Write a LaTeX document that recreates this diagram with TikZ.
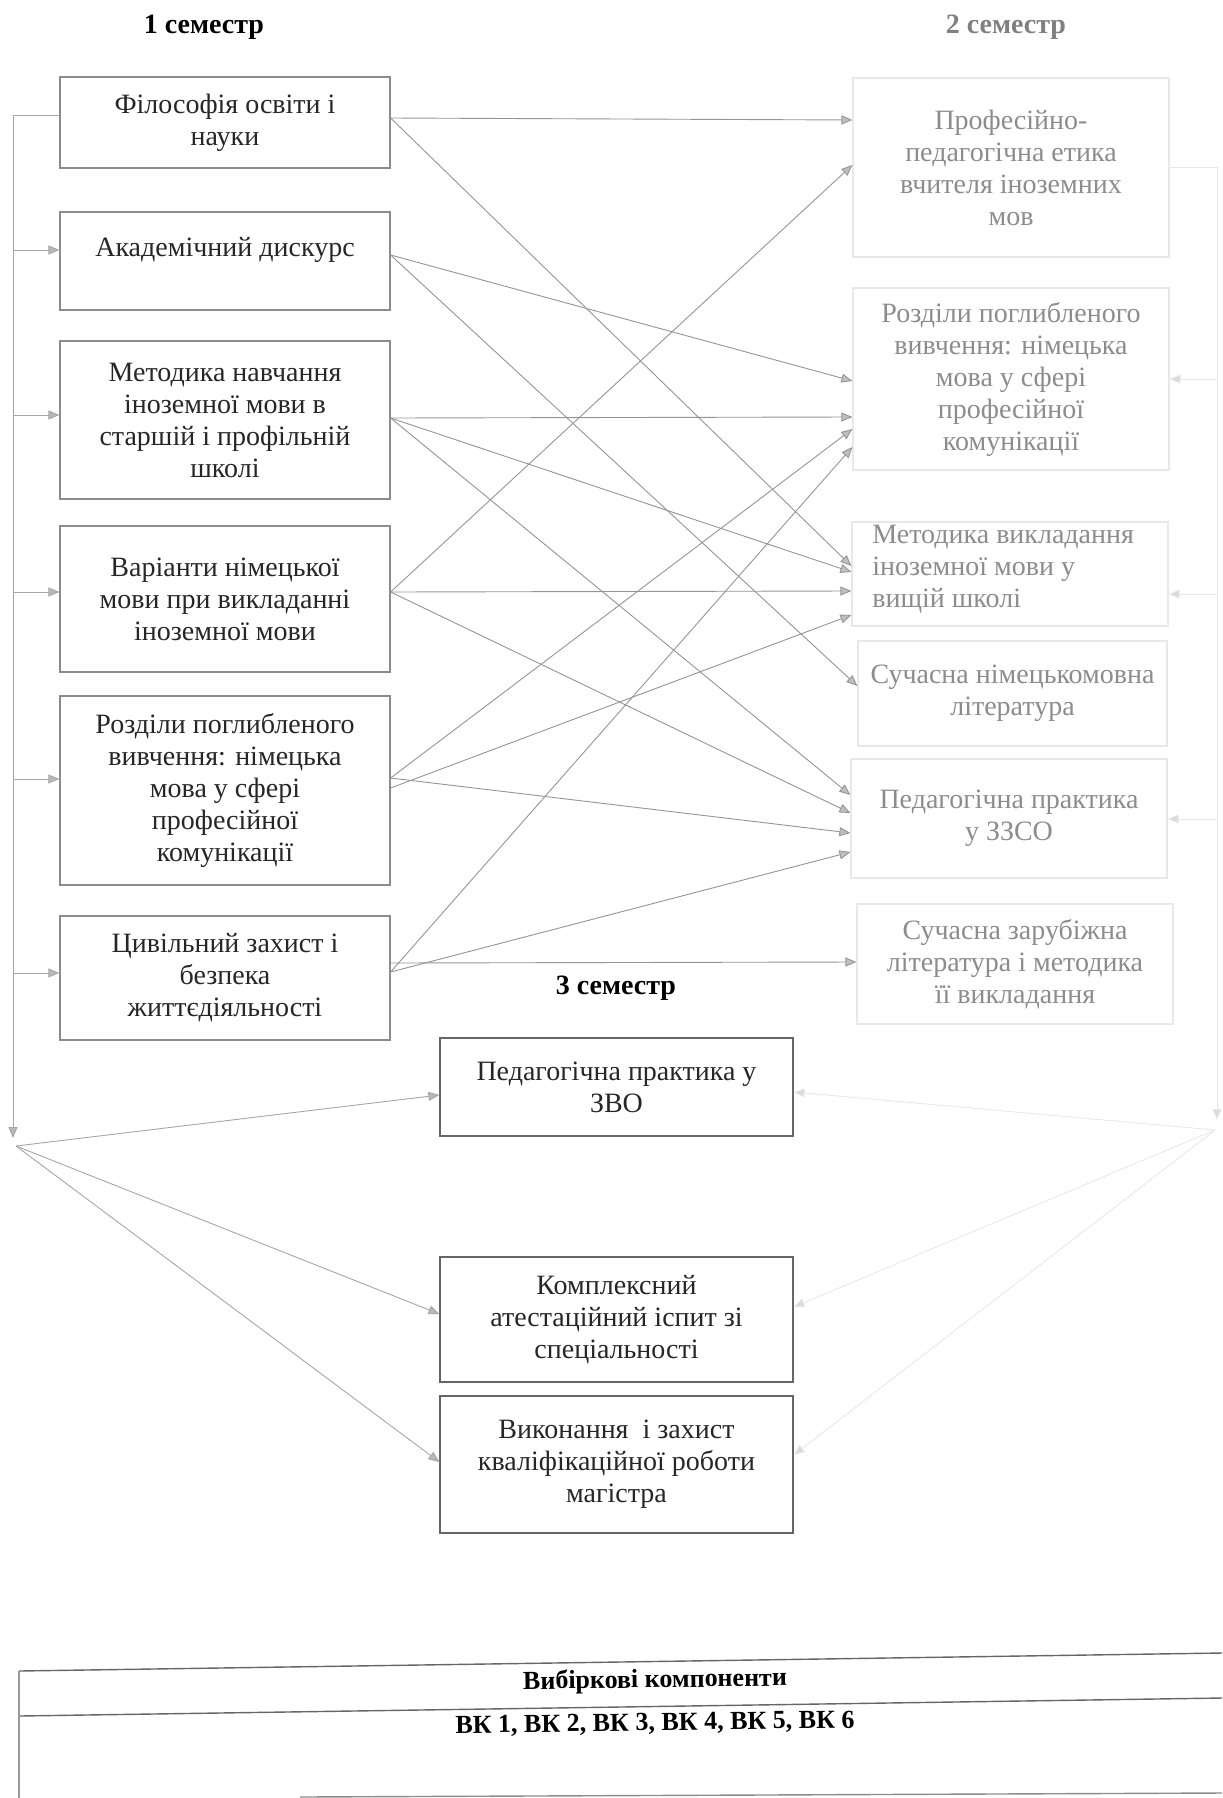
\documentclass[tikz,border=0pt]{standalone}
\usepackage{fontspec}
\setmainfont{Liberation Serif}
\usetikzlibrary{arrows.meta}
\begin{document}
\begin{tikzpicture}[x=0.5pt,y=-0.5pt,
  txt/.style={font=\fontsize{14pt}{16pt}\selectfont, align=center, inner sep=0pt},
  box/.style={txt, draw=black!45, line width=0.6pt, text=black!85},
  lbox/.style={box, minimum width=165pt},
  mbox/.style={box, draw=black!60, minimum width=176.5pt},
  rbox/.style={box, draw=black!9, text=black!45, minimum width=158pt},
  rtext/.style={txt, text=black!45},
  ttl/.style={font=\fontsize{14pt}{16pt}\selectfont\bfseries, inner sep=0pt},
  conn/.style={draw=black!42, line width=0.45pt, -{Triangle[length=5.5pt,width=4.5pt,fill=black!25]}},
  feed/.style={draw=black!35, line width=0.45pt, -{Triangle[length=5.5pt,width=4.5pt,fill=black!28]}},
  faint/.style={draw=black!9, line width=0.45pt, -{Triangle[length=5.5pt,width=4.5pt,fill=black!14]}},
  faintline/.style={draw=black!9, line width=0.45pt},
  tabline/.style={draw=black!60, line width=0.7pt}
]
\useasboundingbox (0,0) rectangle (1222,1798);

% titles
\node[ttl] (T1) at (204,27) {1 семестр};
\node[ttl, text=black!50] (T2) at (1006,27) {2 семестр};
\node[ttl] (T3) at (616,988) {3 семестр};

% left column (1 semester)
\node[lbox, minimum height=45.5pt] (B1) at (225,122.5) {Філософія освіти і\\науки};
\node[lbox, minimum height=49pt] (B2) at (225,261) {};
\node[txt, text=black!85] (B2t) at (225,250) {Академічний дискурс};
\node[lbox, minimum height=79pt] (B3) at (225,420) {Методика навчання\\іноземної мови в\\старшій і профільній\\школі};
\node[lbox, minimum height=73pt] (B4) at (225,599) {Варіанти німецької\\мови при викладанні\\іноземної мови};
\node[lbox, minimum height=94.5pt] (B5) at (225,790.5) {Розділи поглибленого\\вивчення: німецька\\мова у сфері\\професійної\\комунікації};
\node[lbox, minimum height=62pt] (B6) at (225,978) {Цивільний захист і\\безпека\\життєдіяльності};

% right column (2 semester)
\node[rbox, minimum height=89.5pt] (R1) at (1011,167.5) {Професійно-\\педагогічна етика\\вчителя іноземних\\мов};
\node[rbox, minimum height=91pt] (R2) at (1011,379) {Розділи поглибленого\\вивчення: німецька\\мова у сфері\\професійної\\комунікації};
\node[rbox, minimum height=52pt] (R3) at (1010,574) {};
\node[rtext, anchor=west, align=left] (R3t) at (872,569) {Методика викладання\\іноземної мови у\\вищій школі};
\node[rbox, minimum width=154.5pt, minimum height=52.5pt] (R4) at (1012.5,693.5) {Сучасна німецькомовна\\література};
\node[rbox, minimum height=59.5pt] (R5) at (1009,818.5) {Педагогічна практика\\у ЗЗСО};
\node[rbox, minimum height=60pt] (R6) at (1015,964) {Сучасна зарубіжна\\література і методика\\її викладання};

% middle column (3 semester)
\node[mbox, minimum height=49pt] (M1) at (616.5,1087) {Педагогічна практика у\\ЗВО};
\node[mbox, minimum height=62.5pt] (M2) at (616.5,1319.5) {Комплексний\\атестаційний іспит зі\\спеціальності};
\node[mbox, minimum height=68.5pt] (M3) at (616.5,1464.5) {Виконання\ \ і захист\\кваліфікаційної роботи\\магістра};

% crossing connectors from semester 1 to semester 2
\draw[conn] (B1.east |- 0,118) -- (R1.west |- 0,120);
\draw[conn] (B1.east |- 0,118) -- (R3.west |- 0,566);
\draw[conn] (B2.east |- 0,255) -- (R2.west |- 0,381);
\draw[conn] (B2.east |- 0,255) -- (R4.west |- 0,686);
\draw[conn] (B3.east |- 0,418) -- (R2.west |- 0,417);
\draw[conn] (B3.east |- 0,418) -- (R3.west |- 0,572);
\draw[conn] (B3.east |- 0,418) -- (R5.west |- 0,795);
\draw[conn] (B4.east |- 0,592) -- (R3.west |- 0,591);
\draw[conn] (B4.east |- 0,592) -- (R1.west |- 0,165);
\draw[conn] (B4.east |- 0,592) -- (R5.west |- 0,813);
\draw[conn] (B5.east |- 0,778) -- (R2.west |- 0,429);
\draw[conn] (B5.east |- 0,788) -- (R3.west |- 0,615);
\draw[conn] (B5.east |- 0,778) -- (R5.west |- 0,833);
\draw[conn] (B6.east |- 0,972) -- (R2.west |- 0,447);
\draw[conn] (B6.east |- 0,972) -- (R5.west |- 0,852);
\draw[conn] (B6.east |- 0,963) -- (R6.west |- 0,962);

% left feeder line
\coordinate (Ltop) at (13,115);
\coordinate (Lbot) at (13,1138);
\coordinate (Lfan) at (16,1146);
\draw[feed] (B1.west |- Ltop) -- (Ltop) -- (Lbot);
\draw[feed] (Ltop |- 0,250) -- (B2.west |- 0,250);
\draw[feed] (Ltop |- 0,415) -- (B3.west |- 0,415);
\draw[feed] (Ltop |- 0,592) -- (B4.west |- 0,592);
\draw[feed] (Ltop |- 0,779) -- (B5.west |- 0,779);
\draw[feed] (Ltop |- 0,973) -- (B6.west |- 0,973);
\draw[feed] (Lfan) -- (M1.west |- 0,1095);
\draw[feed] (Lfan) -- (M2.west |- 0,1314);
\draw[feed] (Lfan) -- (M3.west |- 0,1462);

% right feeder line (faint)
\coordinate (Rtop) at (1217,167);
\coordinate (Rbot) at (1217,1120);
\coordinate (Rfan) at (1215,1130);
\draw[faintline] (R1.east |- Rtop) -- (Rtop);
\draw[faint] (Rtop) -- (Rbot);
\draw[faint] (Rtop |- 0,379) -- (R2.east |- 0,379);
\draw[faint] (Rtop |- 0,594) -- (R3.east |- 0,594);
\draw[faint] (Rtop |- 0,819) -- (R5.east |- 0,819);
\draw[faint] (Rfan) -- (M1.east |- 0,1092);
\draw[faint] (Rfan) -- (M2.east |- 0,1307);
\draw[faint] (Rfan) -- (M3.east |- 0,1455);

% elective components table
\coordinate (TabA) at (19,1671);
\coordinate (TabB) at (1222,1653);
\coordinate (TabC) at (19,1716);
\coordinate (TabD) at (1222,1698);
\coordinate (TabE) at (19,1798);
\coordinate (TabF) at (300,1797);
\coordinate (TabG) at (1222,1793);
\draw[tabline] (TabA) -- (TabB);
\draw[tabline] (TabC) -- (TabD);
\draw[tabline, draw=black!40] (TabA) -- (TabE);
\draw[tabline, draw=black!45] (TabF) -- (TabG);
\node[font=\fontsize{13pt}{15pt}\selectfont\bfseries, inner sep=0pt, rotate=0.8] (V1) at (655,1681) {Вибіркові компоненти};
\node[font=\fontsize{13pt}{15pt}\selectfont\bfseries, inner sep=0pt, rotate=0.8] (V2) at (655,1724) {ВК 1, ВК 2, ВК 3, ВК 4, ВК 5, ВК 6};
\end{tikzpicture}
\end{document}
